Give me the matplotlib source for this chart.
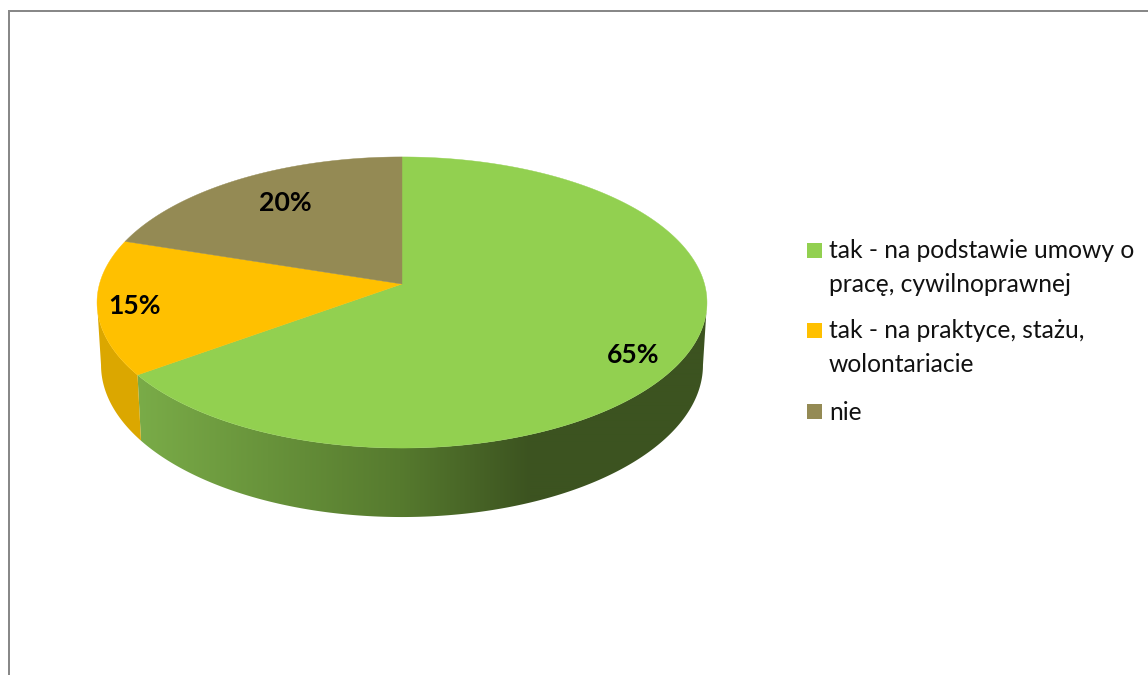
import numpy as np
import matplotlib
matplotlib.use("Agg")
import matplotlib.pyplot as plt
from matplotlib.patches import Rectangle, Polygon

# data
categories = ["tak - na podstawie umowy o\npracę, cywilnoprawnej",
              "tak - na praktyce, stażu,\nwolontariacie",
              "nie"]
values = [65, 15, 20]

colors = ["#92d050", "#ffc000", "#948a54"]
label_pos = [(633, 355), (135, 306), (285, 203)]
legend_y = [251, 331, 412]
line_gap = 34

plt.rcParams["font.family"] = ["Lato", "DejaVu Sans"]

# the pie lies tilted, so the centre is not in the middle of the ellipse
cx, cy = 402, 284
W, A, c = 302.5, 143.2, 0.127


def rim(frac):
    t = 2 * np.pi * np.asarray(frac)
    u, v = np.sin(t), np.cos(t)
    d = 1 + c * v
    return cx + W * u / d, cy - A * v / d


def bottom(frac):
    # lower edge of the wall is its own ellipse, a bit lower and rounder
    x, y = rim(frac)
    return 402 + (x - 402) / 305 * 301, 365 + (y - 302.5) / 145.5 * 152


def wall(f0, f1):
    fr = np.linspace(f0, f1, 300)
    xt, yt = rim(fr)
    xb, yb = bottom(fr)
    return np.c_[np.r_[xt, xb[::-1]], np.r_[yt, yb[::-1]]]


fig = plt.figure(figsize=(11.48, 6.75), dpi=100)
ax = fig.add_axes([0, 0, 1, 1])

# frame, only left and top are visible
ax.plot([9, 9, 1148], [675, 11, 11], color="#888888", lw=1.44, solid_joinstyle="miter")

fracs = np.cumsum([0] + values) / sum(values)
side_r = np.arccos(-c) / (2 * np.pi)  # where the wall comes out on the right
side_l = 1 - side_r

# green wall has a shading from left to right
gx = np.arange(130, 712)
stops = [135, 400, 530, 710]
grad = np.zeros((1, len(gx), 3))
grad[0, :, 0] = np.interp(gx, stops, [122, 86, 60, 60]) / 255
grad[0, :, 1] = np.interp(gx, stops, [172, 122, 83, 83]) / 255
grad[0, :, 2] = np.interp(gx, stops, [72, 46, 32, 32]) / 255
im = ax.imshow(grad, extent=(130, 712, 520, 290), aspect="auto", zorder=1, interpolation="bilinear")
clip = Polygon(wall(side_r, fracs[1]), transform=ax.transData)
im.set_clip_path(clip)

ax.add_patch(Polygon(wall(fracs[1], side_l), color="#dba700", lw=0, zorder=1))

# top faces
for i in range(len(values)):
    fr = np.linspace(fracs[i], fracs[i + 1], 300)
    x, y = rim(fr)
    ax.fill(np.r_[cx, x], np.r_[cy, y], color=colors[i], lw=0.3, zorder=2)

for val, pos in zip(values, label_pos):
    ax.text(pos[0], pos[1], f"{val}%", ha="center", va="center", fontsize=19.2,
            fontweight="bold", color="black", zorder=3)

# legend
for name, col, y in zip(categories, colors, legend_y):
    ax.add_patch(Rectangle((807, y - 8), 15, 15, color=col, lw=0, zorder=3))
    for j, line in enumerate(name.split("\n")):
        ax.text(829, y + j * line_gap, line, ha="left", va="center", fontsize=17.75,
                color="#111111", zorder=3)

ax.set_xlim(0, 1148)
ax.set_ylim(675, 0)
ax.axis("off")

fig.savefig("out.png", dpi=100)
